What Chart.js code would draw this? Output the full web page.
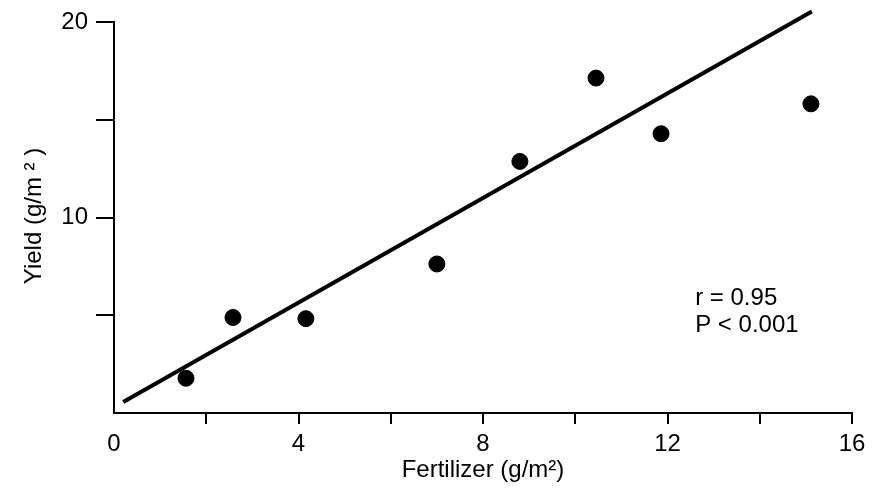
<!DOCTYPE html>
<html>
<head>
<meta charset="utf-8">
<script src="https://cdn.jsdelivr.net/npm/chart.js@4/dist/chart.umd.min.js"></script>
<style>
  html,body{margin:0;padding:0;background:#fff;}
  canvas{display:block;}
</style>
</head>
<body>
<canvas id="plot" width="879" height="492"></canvas>
<script>
// fertilizer (g/m2) vs yield (g/m2)
const fertilizer = [1.56, 2.58, 4.16, 7.0, 8.8, 10.45, 11.86, 15.11];
const yieldVals  = [1.78, 4.89, 4.83, 7.63, 12.88, 17.15, 14.3, 15.83];
// fitted line end points
const fitX = [0.2, 15.13];
const fitY = [0.56, 20.56];
const xTicksLabelled = [0, 4, 8, 12, 16];
const yTicksLabelled = [10, 20];
const statLines = ['r = 0.95', 'P < 0.001'];

const FONT = "'Liberation Sans', Arial, Helvetica, sans-serif";

const textPlugin = {
  id: 'texts',
  afterDraw(chart){
    const c = chart.ctx;
    c.save();
    c.fillStyle = '#000';
    c.font = '24px ' + FONT;
    c.textAlign = 'left';
    c.textBaseline = 'alphabetic';
    const x = chart.scales.x.getPixelForValue(12.6);
    c.fillText(statLines[0], x, 305);
    c.fillText(statLines[1], x, 332);
    // y axis title, rotated
    c.translate(34, 216);
    c.rotate(-Math.PI/2);
    c.textAlign = 'center';
    c.textBaseline = 'middle';
    c.fillText('Yield (g/m \u00B2 )', 0, 0);
    c.restore();
  }
};

new Chart(document.getElementById('plot'), {
  type: 'scatter',
  data: {
    datasets: [
      {
        data: fertilizer.map((x,i)=>({x, y: yieldVals[i]})),
        backgroundColor: '#000', borderColor: '#000',
        pointRadius: 8, pointHoverRadius: 8, showLine: false
      },
      {
        data: fitX.map((x,i)=>({x, y: fitY[i]})),
        borderColor: '#000', borderWidth: 4, pointRadius: 0,
        showLine: true, clip: false
      }
    ]
  },
  options: {
    responsive: false,
    animation: false,
    devicePixelRatio: 1,
    layout: {padding: {left: 0, right: 27, top: 20, bottom: 0}},
    plugins: {legend: {display: false}, tooltip: {enabled: false}},
    scales: {
      x: {
        type: 'linear', min: 0, max: 16,
        afterFit: s => { s.height = 79; },
        border: {display: true, color: '#000', width: 2},
        grid: {drawOnChartArea: false, drawTicks: true, tickLength: 11, lineWidth: 2,
               tickColor: ctx => ctx.tick && ctx.tick.value === 0 ? 'rgba(0,0,0,0)' : '#000'},
        ticks: {
          stepSize: 2, padding: 6, color: '#000', maxRotation: 0, autoSkip: false,
          font: {family: FONT, size: 24},
          callback: v => xTicksLabelled.includes(v) ? String(v) : ''
        },
        title: {display: true, text: 'Fertilizer (g/m\u00B2)', color: '#000',
                font: {family: FONT, size: 24}, padding: 7}
      },
      y: {
        type: 'linear', min: 0, max: 20,
        afterFit: s => { s.width = 114; },
        border: {display: true, color: '#000', width: 2},
        grid: {drawOnChartArea: false, drawTicks: true, tickLength: 18, lineWidth: 2,
               tickColor: ctx => ctx.tick && ctx.tick.value === 0 ? 'rgba(0,0,0,0)' : '#000'},
        ticks: {
          stepSize: 5, padding: 8, color: '#000', autoSkip: false,
          font: {family: FONT, size: 24},
          callback: v => yTicksLabelled.includes(v) ? String(v) : ''
        }
      }
    }
  },
  plugins: [textPlugin]
});
</script>
</body>
</html>
